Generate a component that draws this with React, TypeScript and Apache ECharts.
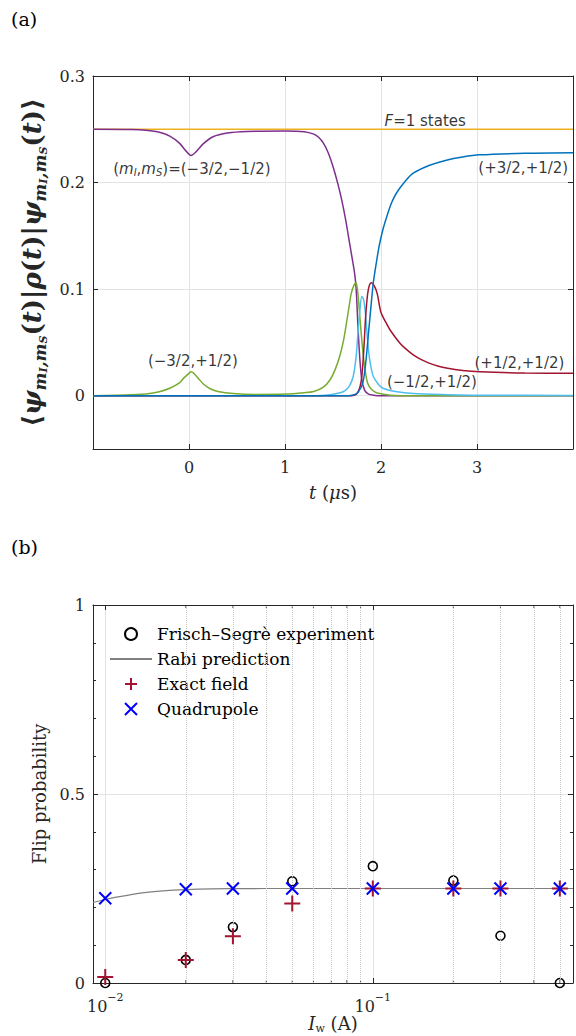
import React, { useEffect, useRef } from 'react';
import * as echarts from 'echarts';

const SERIF = '"DejaVu Serif", serif';
const SANS = '"DejaVu Sans", sans-serif';
const AX = '#262626';
const GRID = '#e3e3e3';

// ---------- panel (a) ----------
const f1T = [-1, 4];
const f1V = [0.25, 0.25];
const purpleT = [-1, -0.6, -0.45, -0.3, -0.2, -0.1, -0.03, 0.02, 0.08, 0.15, 0.25, 0.4, 0.6, 1.0, 1.2, 1.3, 1.35, 1.4, 1.45, 1.5, 1.55, 1.59, 1.63, 1.66, 1.69, 1.72, 1.74, 1.76, 1.78, 1.8, 1.83, 1.87, 1.92, 2.0, 4];
const purpleV = [0.25, 0.2497, 0.249, 0.247, 0.2435, 0.237, 0.2295, 0.2255, 0.2295, 0.2365, 0.243, 0.2465, 0.248, 0.2485, 0.2478, 0.2455, 0.2425, 0.237, 0.228, 0.215, 0.199, 0.184, 0.166, 0.15, 0.134, 0.118, 0.102, 0.065, 0.034, 0.015, 0.005, 0.0015, 0.0005, 0, 0];
const blueT = [-1, 1.6, 1.7, 1.76, 1.81, 1.84, 1.87, 1.9, 1.92, 1.95, 1.98, 2.02, 2.06, 2.11, 2.16, 2.25, 2.34, 2.5, 2.68, 2.85, 3.03, 3.5, 4];
const blueV = [0, 0, 0.0005, 0.003, 0.012, 0.03, 0.059, 0.088, 0.106, 0.124, 0.14, 0.156, 0.168, 0.181, 0.19, 0.201, 0.209, 0.216, 0.221, 0.224, 0.226, 0.2275, 0.228];
const redT = [-1, 1.65, 1.72, 1.75, 1.78, 1.8, 1.82, 1.84, 1.86, 1.88, 1.9, 1.93, 1.96, 2.0, 2.05, 2.1, 2.2, 2.25, 2.34, 2.42, 2.5, 2.6, 2.68, 2.85, 3.03, 3.5, 4];
const redV = [0, 0, 0.0005, 0.002, 0.008, 0.018, 0.042, 0.074, 0.095, 0.104, 0.106, 0.103, 0.096, 0.078, 0.069, 0.061, 0.049, 0.0446, 0.038, 0.0338, 0.0306, 0.0277, 0.026, 0.0237, 0.0224, 0.0212, 0.021];
const greenT = [-1, -0.6, -0.41, -0.3, -0.2, -0.1, -0.05, 0, 0.02, 0.05, 0.1, 0.15, 0.22, 0.3, 0.46, 0.7, 1.0, 1.2, 1.3, 1.4, 1.47, 1.52, 1.57, 1.61, 1.64, 1.67, 1.69, 1.72, 1.74, 1.76, 1.78, 1.8, 1.82, 1.84, 1.86, 1.9, 1.96, 2.1, 2.4, 4];
const greenV = [0, 0.0008, 0.002, 0.004, 0.007, 0.012, 0.017, 0.021, 0.0225, 0.021, 0.016, 0.011, 0.0065, 0.004, 0.002, 0.0012, 0.0015, 0.0028, 0.004, 0.008, 0.015, 0.024, 0.037, 0.052, 0.068, 0.085, 0.096, 0.104, 0.106, 0.095, 0.074, 0.052, 0.034, 0.021, 0.012, 0.006, 0.0025, 0.0005, 0, 0];
const cyanT = [-1, 1.3, 1.47, 1.61, 1.67, 1.71, 1.74, 1.76, 1.78, 1.8, 1.82, 1.84, 1.86, 1.88, 1.9, 1.92, 1.97, 2.02, 2.15, 2.34, 2.7, 3.03, 4];
const cyanV = [0, 0, 0.001, 0.004, 0.009, 0.018, 0.036, 0.059, 0.08, 0.093, 0.09, 0.075, 0.052, 0.035, 0.025, 0.018, 0.011, 0.007, 0.004, 0.002, 0.001, 0.0005, 0.0003];

const annoT = [0.03, 2.46, 3.95, 0.04, 3.91, 2.53];
const annoV = [0.213, 0.258, 0.2136, 0.0328, 0.031, 0.0128];
const annoText = [
  '{t|(}{i|m}{s|I}{t|,}{i|m}{s|S}{t|)=(−3/2,−1/2)}',
  '{i|F}{t|=1 states}',
  '{t|(+3/2,+1/2)}',
  '{t|(−3/2,+1/2)}',
  '{t|(+1/2,+1/2)}',
  '{t|(−1/2,+1/2)}',
];
const annoAlign = ['center', 'center', 'right', 'center', 'right', 'center'];

// ---------- panel (b) ----------
const currents = [0.01, 0.02, 0.03, 0.05, 0.1, 0.2, 0.3, 0.5];
const fsExperiment = [0, 0.061, 0.148, 0.269, 0.309, 0.271, 0.125, 0];
const exactField = [0.016, 0.061, 0.124, 0.21, 0.25, 0.25, 0.25, 0.25];
const quadrupole = [0.224, 0.248, 0.25, 0.25, 0.25, 0.25, 0.25, 0.25];
const rabiI = [0.009, 0.01, 0.011, 0.0125, 0.014, 0.016, 0.018, 0.02, 0.025, 0.03, 0.04, 0.05, 0.1, 0.2, 0.56];
const rabiP = [0.213, 0.221, 0.227, 0.234, 0.239, 0.243, 0.2455, 0.247, 0.249, 0.2495, 0.25, 0.25, 0.25, 0.25, 0.25];
const minorTicks = [0.02, 0.03, 0.04, 0.05, 0.06, 0.07, 0.08, 0.09, 0.2, 0.3, 0.4, 0.5];
const legendNames = ['Frisch–Segrè experiment', 'Rabi prediction', 'Exact field', 'Quadrupole'];

const zip = (a: number[], b: number[]) => a.map((x, i) => [x, b[i]]);

const axisLine = { show: true, onZero: false, lineStyle: { color: AX, width: 1 } };
const axisTick = { show: true, inside: true, length: 5, lineStyle: { color: AX, width: 1 } };
const tickLabel = { fontFamily: SERIF, fontSize: 16, color: AX };

function curve(name: string, t: number[], v: number[], color: string) {
  return {
    name, type: 'line', xAxisIndex: 0, yAxisIndex: 0, data: zip(t, v),
    symbol: 'none', showSymbol: false, smooth: 0.3,
    lineStyle: { color, width: 1.5 }, silent: true, z: 3,
  };
}

function markers(name: string, vals: number[], symbol: string, size: number, color: string, bw: number, z: number) {
  return {
    name, type: 'line', xAxisIndex: 2, yAxisIndex: 2, data: zip(currents, vals),
    symbol, symbolSize: size, showSymbol: true, showAllSymbol: true,
    itemStyle: { color: symbol === 'circle' ? 'rgba(0,0,0,0)' : color, borderColor: color, borderWidth: bw },
    lineStyle: { width: 0, opacity: 0 }, silent: true, z,
  };
}

export default function App() {
  const ref = useRef<HTMLDivElement>(null);
  useEffect(() => {
    if (!ref.current) return;
    const chart = echarts.init(ref.current, null, { renderer: 'svg' });
    const ymain = { fontFamily: SERIF, fontSize: 26, fontWeight: 'bold', fontStyle: 'italic', color: AX, lineHeight: 34 };
    const yup = { fontFamily: SERIF, fontSize: 26, fontWeight: 'bold', color: AX, lineHeight: 34 };
    const ysub = { fontFamily: SERIF, fontSize: 17, fontWeight: 'bold', fontStyle: 'italic', color: AX, lineHeight: 20, verticalAlign: 'bottom' };
    const ysub2 = { fontFamily: SERIF, fontSize: 11, fontWeight: 'bold', fontStyle: 'italic', color: AX, lineHeight: 14, verticalAlign: 'bottom' };
    const option: any = {
      animation: false,
      backgroundColor: '#ffffff',
      graphic: [
        { type: 'text', left: 11, top: 9, style: { text: '(a)', fontFamily: SERIF, fontSize: 19, fill: '#000' } },
        { type: 'text', left: 11, top: 537, style: { text: '(b)', fontFamily: SERIF, fontSize: 19, fill: '#000' } },
      ],
      grid: [
        { left: 93, right: 3, top: 76, height: 373, outerBoundsMode: 'none' },
        { left: 93, right: 3, top: 605, height: 378, outerBoundsMode: 'none' },
      ],
      legend: {
        data: [
          { name: legendNames[0] },
          { name: legendNames[1], itemStyle: { opacity: 0 } },
          { name: legendNames[2] },
          { name: legendNames[3] },
        ],
        orient: 'vertical', left: 104, top: 619, itemWidth: 42, itemHeight: 15, itemGap: 5,
        selectedMode: false,
        textStyle: { fontFamily: SERIF, fontSize: 17, color: '#000', lineHeight: 20 },
      },
      xAxis: [
        {
          gridIndex: 0, type: 'value', min: -1, max: 4, interval: 1, position: 'bottom',
          axisLine, axisTick,
          axisLabel: { ...tickLabel, showMinLabel: false, showMaxLabel: false, margin: 10 },
          splitLine: { show: true, lineStyle: { color: GRID, width: 1 } },
          name: '{i|t} ({i|μ}s)', nameLocation: 'middle', nameGap: 34,
          nameTextStyle: {
            fontFamily: SERIF, fontSize: 18, color: AX,
            rich: { i: { fontFamily: SERIF, fontSize: 18, fontStyle: 'italic', color: AX } },
          },
        },
        {
          gridIndex: 0, type: 'value', min: -1, max: 4, interval: 1, position: 'top',
          axisLine, axisTick, axisLabel: { show: false }, splitLine: { show: false },
        },
        {
          gridIndex: 1, type: 'log', logBase: 10, min: 0.009, max: 0.56, position: 'bottom',
          axisLine, axisTick,
          axisLabel: {
            showMinLabel: false, showMaxLabel: false, margin: 9,
            formatter: (v: number) => {
              const e = Math.round(Math.log10(v));
              return '{b|10}{s|' + (e < 0 ? '−' : '') + Math.abs(e) + '}';
            },
            rich: {
              b: { fontFamily: SERIF, fontSize: 16, color: AX, lineHeight: 22, verticalAlign: 'bottom' },
              s: { fontFamily: SERIF, fontSize: 11, color: AX, lineHeight: 12, verticalAlign: 'top' },
            },
          },
          splitLine: { show: true, lineStyle: { color: GRID, width: 1 } },
          name: '{i|I}{s|w} (A)', nameLocation: 'middle', nameGap: 27,
          nameTextStyle: {
            fontFamily: SERIF, fontSize: 18, color: AX,
            rich: {
              i: { fontFamily: SERIF, fontSize: 18, fontStyle: 'italic', color: AX, lineHeight: 20 },
              s: { fontFamily: SERIF, fontSize: 11, color: AX, lineHeight: 12, verticalAlign: 'bottom' },
            },
          },
        },
        {
          gridIndex: 1, type: 'log', logBase: 10, min: 0.009, max: 0.56, position: 'top',
          axisLine, axisTick, axisLabel: { show: false }, splitLine: { show: false },
        },
      ],
      yAxis: [
        {
          gridIndex: 0, type: 'value', min: -0.05, max: 0.3, splitNumber: 4, position: 'left',
          axisLine, axisTick,
          axisLabel: { ...tickLabel, showMinLabel: false, margin: 8 },
          splitLine: { show: true, lineStyle: { color: GRID, width: 1 } },
          name: '{u|⟨}{m|ψ}{s|m}{ss|I}{s|,m}{ss|S}{u|(}{m|t}{u|)|}{m|ρ}{u|(}{m|t}{u|)|}{m|ψ}{s|m}{ss|I}{s|,m}{ss|S}{u|(}{m|t}{u|)⟩}',
          nameLocation: 'middle', nameRotate: 90, nameGap: 44,
          nameTextStyle: { rich: { m: ymain, u: yup, s: ysub, ss: ysub2 } },
        },
        {
          gridIndex: 0, type: 'value', min: -0.05, max: 0.3, splitNumber: 4, position: 'right',
          axisLine, axisTick, axisLabel: { show: false }, splitLine: { show: false },
        },
        {
          gridIndex: 1, type: 'value', min: 0, max: 1, interval: 0.5, position: 'left',
          axisLine, axisTick,
          minorTick: { show: true, splitNumber: 5, length: 3, lineStyle: { color: AX } },
          axisLabel: { ...tickLabel, margin: 8 },
          splitLine: { show: true, lineStyle: { color: GRID, width: 1 } },
          name: 'Flip probability', nameLocation: 'middle', nameRotate: 90, nameGap: 44,
          nameTextStyle: { fontFamily: SERIF, fontSize: 18, color: AX },
        },
        {
          gridIndex: 1, type: 'value', min: 0, max: 1, interval: 0.5, position: 'right',
          axisLine, axisTick,
          minorTick: { show: true, splitNumber: 5, length: 3, lineStyle: { color: AX } },
          axisLabel: { show: false }, splitLine: { show: false },
        },
      ],
      series: [
        curve('F=1', f1T, f1V, '#EDB120'),
        curve('(-3/2,-1/2)', purpleT, purpleV, '#7E2F8E'),
        curve('(-3/2,+1/2)', greenT, greenV, '#77AC30'),
        curve('(-1/2,+1/2)', cyanT, cyanV, '#4DBEEE'),
        curve('(+1/2,+1/2)', redT, redV, '#A2142F'),
        curve('(+3/2,+1/2)', blueT, blueV, '#0072BD'),
        {
          name: 'annotations', type: 'scatter', xAxisIndex: 0, yAxisIndex: 0, symbolSize: 0, silent: true, z: 10,
          data: annoT.map((t, i) => ({ value: [t, annoV[i]], label: { align: annoAlign[i] } })),
          label: {
            show: true, position: 'inside', color: '#000',
            formatter: (p: any) => annoText[p.dataIndex],
            rich: {
              t: { fontFamily: SANS, fontSize: 15, color: '#000', lineHeight: 18 },
              i: { fontFamily: SANS, fontSize: 15, fontStyle: 'italic', color: '#000', lineHeight: 18 },
              s: { fontFamily: SANS, fontSize: 10, fontStyle: 'italic', color: '#000', lineHeight: 10, verticalAlign: 'bottom' },
            },
          },
        },
        {
          name: 'minor', type: 'scatter', xAxisIndex: 2, yAxisIndex: 2, silent: true, z: 1,
          data: minorTicks.map((x) => [x, 0]),
          symbol: 'rect', symbolSize: [1, 3], symbolOffset: [0, -1.5],
          itemStyle: { color: AX },
          markLine: {
            silent: true, symbol: 'none', label: { show: false },
            lineStyle: { color: '#c9c9c9', type: 'dotted', width: 1 },
            data: minorTicks.map((x) => ({ xAxis: x })),
          },
        },
        {
          name: 'minorTop', type: 'scatter', xAxisIndex: 2, yAxisIndex: 2, silent: true, z: 1,
          data: minorTicks.map((x) => [x, 1]),
          symbol: 'rect', symbolSize: [1, 3], symbolOffset: [0, 1.5],
          itemStyle: { color: AX },
        },
        markers(legendNames[0], fsExperiment, 'circle', 9, '#000000', 1.6, 4),
        {
          name: legendNames[1], type: 'line', xAxisIndex: 2, yAxisIndex: 2, data: zip(rabiI, rabiP),
          symbol: 'none', showSymbol: false, smooth: 0.3,
          itemStyle: { color: '#808080' },
          lineStyle: { color: '#808080', width: 1.2 }, silent: true, z: 3,
        },
        markers(legendNames[2], exactField, 'path://M7,0L7,14M0,7L14,7', 16, '#A2142F', 2, 5),
        markers(legendNames[3], quadrupole, 'path://M0,0L12,12M0,12L12,0', 12, '#0000FF', 2, 6),
      ],
    };
    chart.setOption(option);
    return () => chart.dispose();
  }, []);
  return <div ref={ref} style={{ position: 'absolute', left: 0, top: 0, width: 576, height: 1036 }} />;
}
